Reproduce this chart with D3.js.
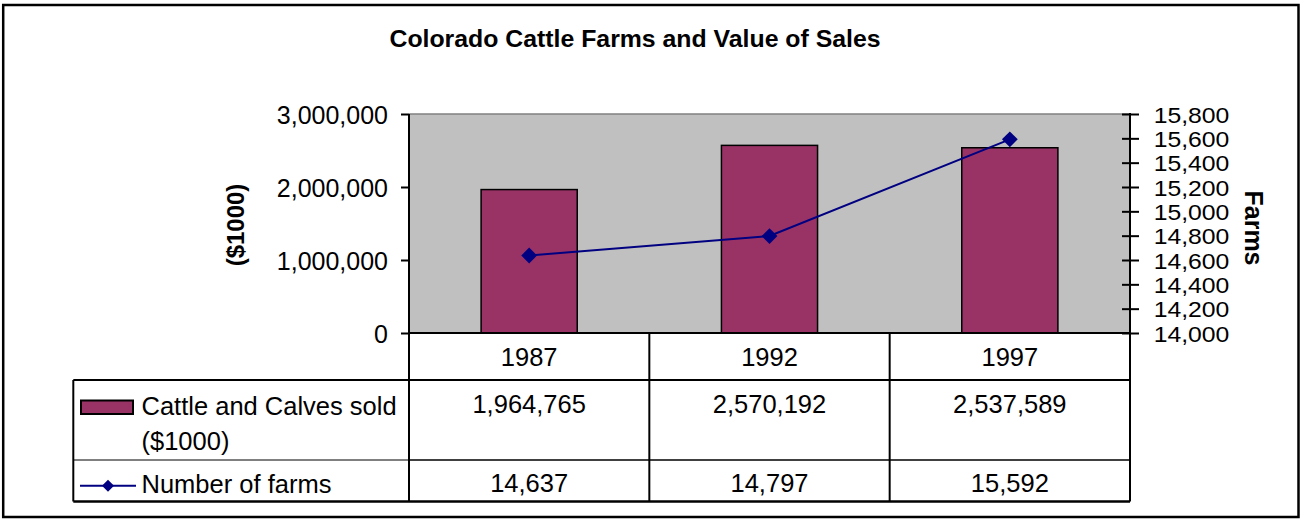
<!DOCTYPE html>
<html>
<head>
<meta charset="utf-8">
<script src="https://cdn.jsdelivr.net/npm/d3@7"></script>
<style>
  html, body { margin: 0; padding: 0; background: #fff; }
  svg { display: block; font-family: "Liberation Sans", Arial, sans-serif; }
</style>
</head>
<body>
<svg id="chart" width="1304" height="520"></svg>
<script>
const title = "Colorado Cattle Farms and Value of Sales";
const years = ["1987", "1992", "1997"];
const salesValues = [1964765, 2570192, 2537589];
const farmValues = [14637, 14797, 15592];
const salesLabel = ["Cattle and Calves sold", "($1000)"];
const farmsLabel = "Number of farms";
const leftTicks = [0, 1000000, 2000000, 3000000];
const rightTicks = [14000, 14200, 14400, 14600, 14800, 15000, 15200, 15400, 15600, 15800];
const leftAxisTitle = "($1000)";
const rightAxisTitle = "Farms";

const svg = d3.select("#chart");
const fmt = d3.format(",");
const FS = 25;
const barColor = "#993366", lineColor = "#000080";

// outer frame
svg.append("rect").attr("x", 3.2).attr("y", 5).attr("width", 1295.3).attr("height", 512)
  .attr("fill", "#fff").attr("stroke", "#000").attr("stroke-width", 2.5);

// title
svg.append("text").attr("transform", "translate(635,47) scale(1.08,1)")
  .attr("text-anchor", "middle").attr("font-size", 23).attr("font-weight", "bold").text(title);

const plot = { left: 409, right: 1130, top: 114, bottom: 333 };
const x = d3.scaleBand().domain(years).range([plot.left, plot.right]).paddingInner(0).paddingOuter(0);
const yL = d3.scaleLinear().domain([0, 3000000]).range([plot.bottom, plot.top]);
const yR = d3.scaleLinear().domain([14000, 15800]).range([plot.bottom, plot.top]);

// plot background
svg.append("rect").attr("x", plot.left).attr("y", plot.top)
  .attr("width", plot.right - plot.left).attr("height", plot.bottom - plot.top)
  .attr("fill", "#c0c0c0");
svg.append("line").attr("x1", plot.left).attr("x2", plot.right).attr("y1", plot.top).attr("y2", plot.top)
  .attr("stroke", "#808080").attr("stroke-width", 1.5);

// bars
const bw = x.bandwidth() * 0.4;
svg.append("g").selectAll("rect").data(years).join("rect")
  .attr("x", (d) => x(d) + (x.bandwidth() - bw) / 2)
  .attr("y", (d, i) => yL(salesValues[i]))
  .attr("width", bw)
  .attr("height", (d, i) => plot.bottom - yL(salesValues[i]))
  .attr("fill", barColor).attr("stroke", "#000").attr("stroke-width", 1.5);

// line
const pts = years.map((d, i) => [x(d) + x.bandwidth() / 2, yR(farmValues[i])]);
svg.append("path").attr("d", d3.line()(pts)).attr("fill", "none")
  .attr("stroke", lineColor).attr("stroke-width", 2);
const diamond = d3.symbol().type(d3.symbolSquare).size(125);
svg.append("g").selectAll("path").data(pts).join("path")
  .attr("transform", (p) => `translate(${p[0]},${p[1]}) rotate(45)`)
  .attr("d", diamond()).attr("fill", lineColor);

// left axis
const gL = svg.append("g").attr("transform", `translate(${plot.left},0)`)
  .call(d3.axisLeft(yL).tickValues(leftTicks).tickFormat(fmt).tickSize(8).tickPadding(13));
gL.select(".domain").remove();
gL.selectAll(".tick line").attr("stroke", "#000").attr("stroke-width", 2);
gL.selectAll(".tick text").attr("font-size", FS).attr("font-family", "Liberation Sans, Arial, sans-serif")
  .attr("fill", "#000").attr("dy", "0.36em");

// right axis
const gR = svg.append("g").attr("transform", `translate(${plot.right},0)`)
  .call(d3.axisRight(yR).tickValues(rightTicks).tickFormat(fmt).tickSize(9).tickPadding(14));
gR.select(".domain").remove();
gR.selectAll(".tick line").attr("x1", -8).attr("stroke", "#000").attr("stroke-width", 2);
gR.selectAll(".tick text").attr("font-size", 22.5).attr("font-family", "Liberation Sans, Arial, sans-serif")
  .attr("fill", "#000").attr("dy", "0.36em")
  .attr("x", 21.5).attr("transform", "scale(1.1,1)");

// axis titles
svg.append("text").attr("transform", "translate(244,225) rotate(-90)")
  .attr("text-anchor", "middle").attr("font-size", 24).attr("font-weight", "bold").text(leftAxisTitle);
svg.append("text").attr("transform", "translate(1245,228) rotate(90)")
  .attr("text-anchor", "middle").attr("font-size", 25).attr("font-weight", "bold").text(rightAxisTitle);

// data table
const tbl = { left: 73.3, h1: 380, h2: 460, bottom: 501.5 };
const lines = svg.append("g").attr("stroke", "#000");
lines.append("line").attr("x1", plot.left).attr("x2", plot.left).attr("y1", plot.top).attr("y2", tbl.bottom).attr("stroke-width", 2);
lines.append("line").attr("x1", plot.right).attr("x2", plot.right).attr("y1", plot.top - 1).attr("y2", tbl.bottom).attr("stroke-width", 2);
lines.append("line").attr("x1", plot.left).attr("x2", plot.right).attr("y1", plot.bottom).attr("y2", plot.bottom).attr("stroke-width", 2);
years.slice(1).forEach((d) => {
  lines.append("line").attr("x1", x(d)).attr("x2", x(d)).attr("y1", plot.bottom).attr("y2", tbl.bottom).attr("stroke-width", 2);
});
lines.append("line").attr("x1", tbl.left).attr("x2", tbl.left).attr("y1", tbl.h1).attr("y2", tbl.bottom).attr("stroke-width", 2);
lines.append("line").attr("x1", tbl.left).attr("x2", plot.right).attr("y1", tbl.h1).attr("y2", tbl.h1).attr("stroke-width", 2);
lines.append("line").attr("x1", tbl.left).attr("x2", plot.left).attr("y1", tbl.h2).attr("y2", tbl.h2).attr("stroke-width", 1);
lines.append("line").attr("x1", plot.left).attr("x2", plot.right).attr("y1", tbl.h2).attr("y2", tbl.h2).attr("stroke-width", 1.5);
lines.append("line").attr("x1", tbl.left).attr("x2", plot.right).attr("y1", tbl.bottom).attr("y2", tbl.bottom).attr("stroke-width", 2.5);

const cells = svg.append("g").attr("font-size", 25.5).attr("fill", "#000").attr("text-anchor", "middle");
years.forEach((d, i) => {
  const cx = x(d) + x.bandwidth() / 2;
  cells.append("text").attr("x", cx).attr("y", 366).text(d);
  cells.append("text").attr("x", cx).attr("y", 413).text(fmt(salesValues[i]));
  cells.append("text").attr("x", cx).attr("y", 492).text(fmt(farmValues[i]));
});

// legend in table
const lg = svg.append("g").attr("font-size", 25.5);
lg.append("rect").attr("x", 81).attr("y", 400.5).attr("width", 52).attr("height", 13.5)
  .attr("fill", barColor).attr("stroke", "#000").attr("stroke-width", 2);
lg.append("text").attr("x", 141.5).attr("y", 415).text(salesLabel[0]);
lg.append("text").attr("x", 141.5).attr("y", 450).text(salesLabel[1]);
lg.append("line").attr("x1", 80).attr("x2", 136).attr("y1", 485.7).attr("y2", 485.7)
  .attr("stroke", lineColor).attr("stroke-width", 2);
lg.append("path").attr("transform", "translate(108,485.7) rotate(45)")
  .attr("d", d3.symbol().type(d3.symbolSquare).size(72)()).attr("fill", lineColor);
lg.append("text").attr("x", 141.5).attr("y", 493).text(farmsLabel);
</script>
</body>
</html>
